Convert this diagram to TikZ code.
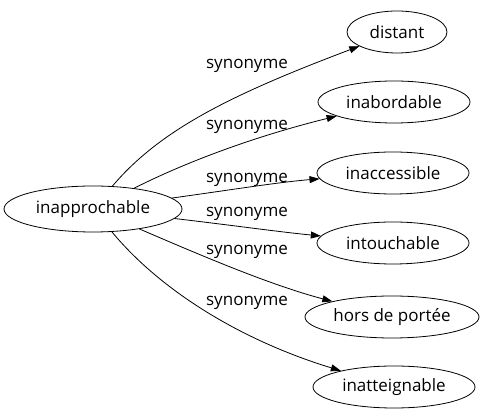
\documentclass[tikz,border=0pt]{standalone}
\usepackage{fontspec}
\setmainfont{Open Sans}
\usetikzlibrary{arrows.meta,shapes.geometric}
\begin{document}
\begin{tikzpicture}[x=1pt,y=-1pt,line width=0.8pt,
  word/.style={draw,ellipse,inner sep=0pt,font=\fontsize{17}{20}\selectfont},
  lbl/.style={font=\fontsize{17}{20}\selectfont,inner sep=0pt},
  edge/.style={draw,-{Triangle[length=10pt,width=7pt]}}]
\useasboundingbox (0,0) rectangle (488,419);
\node[word,minimum width=178pt,minimum height=46pt] (c) at (93,209) {inapprochable};
\node[word,minimum width=100pt,minimum height=42pt] (d1) at (397,32) {distant};
\node[word,minimum width=152pt,minimum height=42pt] (d2) at (394,102) {inabordable};
\node[word,minimum width=152pt,minimum height=42pt] (d3) at (393,173) {inaccessible};
\node[word,minimum width=152pt,minimum height=42pt] (d4) at (393,243) {intouchable};
\node[word,minimum width=174pt,minimum height=42pt] (d5) at (392,317) {hors de portée};
\node[word,minimum width=162pt,minimum height=42pt] (d6) at (394,387) {inatteignable};
\draw[edge] (c) .. controls (160,130) and (230,95) .. (d1);
\draw[edge] (c) .. controls (190,160) and (260,135) .. (d2);
\draw[edge] (c) .. controls (230,190) and (280,182) .. (d3);
\draw[edge] (c) .. controls (230,225) and (280,232) .. (d4);
\draw[edge] (c) .. controls (200,255) and (270,285) .. (d5);
\draw[edge] (c) .. controls (160,290) and (240,340) .. (d6);
\node[lbl] (l1) at (247,66) {synonyme};
\node[lbl] (l2) at (247,127) {synonyme};
\node[lbl] (l3) at (247,180) {synonyme};
\node[lbl] (l4) at (247,214) {synonyme};
\node[lbl] (l5) at (247,252) {synonyme};
\node[lbl] (l6) at (247,303) {synonyme};
\end{tikzpicture}
\end{document}
